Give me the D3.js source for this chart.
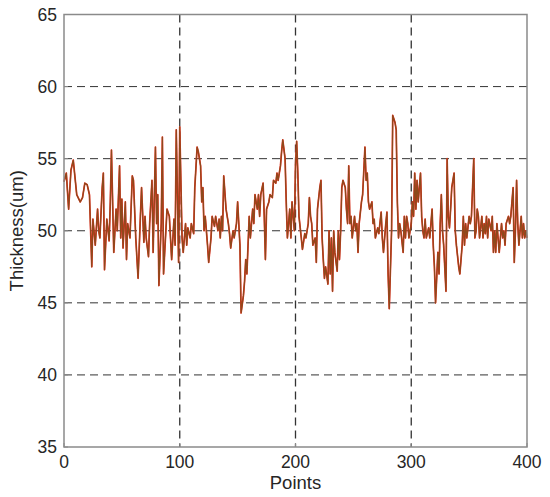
<!DOCTYPE html>
<html>
<head>
    <meta charset="utf-8">
    <style>
        body { margin: 0; background: #fff; }
        svg { display: block; font-family: "Liberation Sans", Arial, sans-serif; }
        .tick-label { font-size: 17.5px; fill: #262626; }
        .axis-title { font-size: 18.5px; fill: #262626; }
    </style>
</head>
<body>
    <svg width="550" height="497"></svg>

<script src="https://d3js.org/d3.v7.min.js"></script>
<script>
    let pointIdx = [0, 2, 4, 6, 8, 11, 14, 16, 18, 20, 22, 24, 25, 27, 29, 30, 31, 33, 34, 35, 37, 39, 40, 41, 43, 45, 46, 48, 49, 50, 51, 53, 54, 55, 57, 59, 60, 62, 64, 66, 67,
        69, 70, 71, 73, 74, 76, 77, 79, 80, 81, 82, 84, 85, 86, 88, 89, 91, 92, 93, 95, 96, 97, 99, 100, 102, 103, 105, 106, 107, 109, 110, 112, 113, 115, 116, 118, 119, 120, 121, 122, 124, 125, 127, 128, 130, 131, 133, 134,
        135, 136, 137, 138, 140, 142, 143, 144, 146, 147, 149, 150, 152, 153, 155, 156, 157, 158, 160, 161, 163, 164, 165, 167, 168, 169, 170, 172, 173, 174, 175, 177, 178, 180, 181, 183, 184, 185, 187, 188, 189, 191, 192, 193, 195, 196, 197, 199, 200, 201, 202,
        203, 205, 206, 208, 209, 211, 212, 213, 214, 215, 217, 218, 219, 221, 222, 223, 224, 225, 226, 228, 229, 230, 231, 232, 233, 234, 236, 237, 238, 239, 240, 241, 243, 244, 245, 246, 247, 248, 249, 251, 252, 253, 254, 255, 257, 258, 260, 261, 262, 263, 264, 266, 267,
        268, 269, 271, 272, 274, 275, 276, 278, 279, 280, 281, 283, 284, 286, 287, 288, 289, 290, 291, 293, 294, 295, 296, 297, 298, 300, 301, 302, 303, 304, 305, 306, 308, 309, 310, 311, 312, 313, 315, 316, 317, 318, 319, 320, 321, 323, 324, 325, 326, 327, 328, 330, 331, 332, 333, 334,
        335, 337, 338, 339, 341, 342, 344, 345, 346, 347, 348, 350, 351, 352, 354, 355, 356, 357, 358, 359, 361, 362, 363, 364, 365, 366, 367, 369, 370, 371, 372, 373, 374, 376, 377, 378, 379, 380, 381, 382, 384, 385, 386, 387, 388, 389, 390, 391, 392, 393, 395, 396, 397, 398, 399, 400]

    let thickness = [53.4, 54.0, 51.5, 54.2, 54.9, 52.5, 52.0, 52.3, 53.3, 53.2, 52.5, 47.5, 50.8, 49.0, 51.5, 50.0, 49.5, 53.0, 54.0, 47.3, 50.8, 49.3, 52.0, 55.6, 48.5, 51.5, 50.0, 54.5, 49.5, 52.2, 48.8, 52.0, 48.0, 50.5, 49.5, 53.8, 53.5, 49.5, 46.7, 51.0, 53.0,
        49.2, 51.0, 49.5, 48.2, 50.5, 53.5, 48.5, 55.8, 50.5, 52.5, 46.2, 50.5, 56.5, 47.0, 50.0, 51.5, 51.0, 49.5, 48.0, 50.8, 49.0, 57.0, 47.8, 57.2, 49.5, 48.5, 50.5, 49.0, 50.2, 49.5, 50.5, 49.8, 53.0, 55.8, 55.5, 54.5, 52.0, 53.0, 50.0, 51.0, 49.0, 47.8, 49.5, 51.0, 50.3, 51.0, 50.0, 50.8,
        49.5, 51.0, 50.0, 53.8, 51.5, 50.5, 49.8, 48.8, 50.0, 49.5, 50.5, 52.0, 49.0, 44.3, 45.5, 46.5, 48.0, 47.0, 51.0, 49.5, 51.5, 50.5, 52.5, 51.5, 52.5, 51.0, 52.5, 53.3, 51.0, 48.0, 51.5, 52.0, 52.5, 52.3, 53.5, 53.3, 54.0, 53.5, 54.5, 55.5, 56.3, 55.0, 52.0, 49.5, 51.5, 49.5, 52.0, 50.0, 54.5, 56.2, 54.0,
        51.0, 49.5, 48.7, 49.8, 49.5, 50.5, 52.3, 51.0, 50.5, 49.0, 49.5, 47.8, 51.5, 53.0, 53.5, 49.5, 48.0, 46.7, 47.5, 46.3, 50.0, 47.0, 49.5, 45.8, 50.0, 48.5, 47.2, 50.0, 48.0, 50.0, 53.0, 53.5, 53.0, 51.5, 50.5, 54.5, 50.5, 51.0, 49.5, 51.0, 50.0, 50.5, 48.5, 50.5, 52.0, 52.5, 55.8, 53.5, 54.0, 52.0, 51.5, 52.0, 50.5,
        50.8, 49.5, 50.2, 49.8, 51.3, 49.5, 48.5, 50.5, 51.3, 47.0, 44.6, 50.0, 58.0, 57.5, 57.0, 52.0, 49.5, 50.5, 50.0, 48.5, 51.0, 49.5, 51.0, 50.5, 49.5, 50.5, 52.0, 51.0, 54.0, 51.5, 53.5, 52.0, 54.0, 51.0, 50.0, 49.5, 50.8, 49.5, 50.2, 49.5, 50.5, 51.5, 49.0, 47.5, 45.0, 48.5, 47.0, 50.5, 52.5, 50.0, 49.0, 45.8, 55.0, 51.0, 50.2, 51.5,
        53.0, 54.0, 50.0, 49.0, 47.5, 47.0, 49.0, 51.0, 49.0, 50.5, 49.5, 51.0, 50.5, 51.0, 55.0, 49.5, 50.0, 51.5, 51.0, 49.5, 51.0, 49.5, 50.5, 49.8, 51.0, 49.5, 50.8, 50.0, 51.0, 48.5, 50.0, 48.5, 50.5, 48.5, 49.5, 50.5, 49.5, 50.0, 49.0, 50.5, 51.0, 50.5, 51.0, 52.0, 53.0, 47.8, 50.0, 53.5, 50.5, 49.0, 51.0, 49.5, 50.5, 49.5, 50.0, 49.5]

    let xTicks = [0, 100, 200, 300, 400]
    let yTicks = [35, 40, 45, 50, 55, 60, 65]

    let svg = d3.select("svg")

    let plotL = 64, plotR = 527, plotT = 14.5, plotB = 447

    let x = d3.scaleLinear().domain([0, 400]).range([plotL, plotR])
    let y = d3.scaleLinear().domain([35, 65]).range([plotB, plotT])

    // dashed grid (not on the box edges)
    svg.selectAll(".vgrid")
        .data(xTicks.filter(d => d > 0 && d < 400))
        .join("line")
        .attr("x1", d => x(d)).attr("x2", d => x(d))
        .attr("y1", plotT).attr("y2", plotB)
        .style("stroke", "#333")
        .style("stroke-width", 1.3)
        .style("stroke-dasharray", "8,5")

    svg.selectAll(".hgrid")
        .data(yTicks.filter(d => d > 35 && d < 65))
        .join("line")
        .attr("x1", plotL).attr("x2", plotR)
        .attr("y1", d => y(d)).attr("y2", d => y(d))
        .style("stroke", "#333")
        .style("stroke-width", 1)
        .style("stroke-dasharray", "8,5")

    let data = pointIdx.map((p, i) => ({ p: p, v: thickness[i] })).filter(d => d.v != null)

    let line = d3.line()
        .x(d => x(d.p))
        .y(d => y(d.v))

    // red underneath, brown on top
    svg.append("path")
        .datum(data)
        .attr("d", line)
        .style("fill", "none")
        .style("stroke", "#f02a1e")
        .style("stroke-width", 1.7)
        .style("stroke-linejoin", "round")

    svg.append("path")
        .datum(data)
        .attr("d", line)
        .style("fill", "none")
        .style("stroke", "#8c4a1c")
        .style("stroke-width", 1.2)
        .style("stroke-linejoin", "round")

    // box
    svg.append("rect")
        .attr("x", plotL).attr("y", plotT)
        .attr("width", plotR - plotL).attr("height", plotB - plotT)
        .style("fill", "none")
        .style("stroke", "#8a8a8a")
        .style("stroke-width", 1.5)

    // ticks, MATLAB style, pointing inward
    svg.selectAll(".xtick")
        .data(xTicks)
        .join("line")
        .attr("x1", d => x(d)).attr("x2", d => x(d))
        .attr("y1", plotB).attr("y2", plotB - 4)
        .style("stroke", "#8a8a8a")

    svg.selectAll(".ytick")
        .data(yTicks)
        .join("line")
        .attr("x1", plotL).attr("x2", plotL + 4)
        .attr("y1", d => y(d)).attr("y2", d => y(d))
        .style("stroke", "#8a8a8a")

    svg.selectAll(".xlab")
        .data(xTicks)
        .join("text")
        .attr("class", "tick-label")
        .attr("x", d => x(d))
        .attr("y", plotB + 21)
        .attr("text-anchor", "middle")
        .text(d => d)

    svg.selectAll(".ylab")
        .data(yTicks)
        .join("text")
        .attr("class", "tick-label")
        .attr("x", plotL - 7)
        .attr("y", d => y(d) + 6)
        .attr("text-anchor", "end")
        .text(d => d)

    svg.append("text")
        .attr("class", "axis-title")
        .attr("x", x(200))
        .attr("y", 489)
        .attr("text-anchor", "middle")
        .text("Points")

    svg.append("text")
        .attr("class", "axis-title")
        .attr("transform", "translate(23," + y(50) + ") rotate(-90)")
        .attr("text-anchor", "middle")
        .text("Thickness(um)")
</script>
</body>
</html>
